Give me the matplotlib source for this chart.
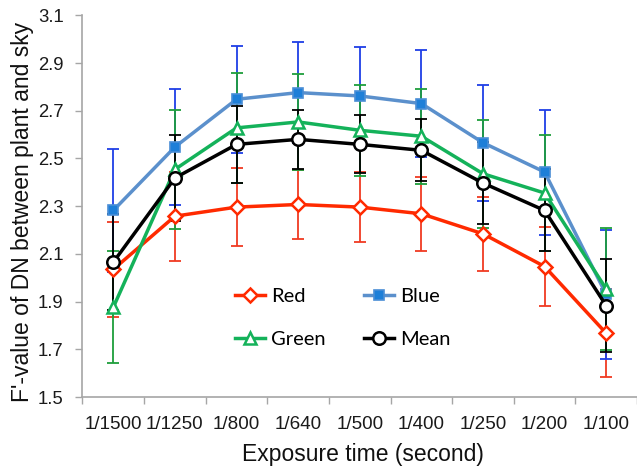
import matplotlib
matplotlib.use("Agg")
import matplotlib.pyplot as plt
import numpy as np

categories = ["1/1500", "1/1250", "1/800", "1/640", "1/500", "1/400", "1/250", "1/200", "1/100"]

red = [2.035, 2.258, 2.296, 2.307, 2.296, 2.268, 2.184, 2.047, 1.767]
red_err = [0.200, 0.186, 0.165, 0.145, 0.147, 0.154, 0.156, 0.167, 0.185]

blue = [2.282, 2.548, 2.748, 2.776, 2.762, 2.730, 2.566, 2.443, 1.930]
blue_err = [0.256, 0.245, 0.225, 0.210, 0.205, 0.224, 0.243, 0.262, 0.272]

green = [1.876, 2.454, 2.628, 2.653, 2.618, 2.593, 2.436, 2.355, 1.953]
green_err = [0.235, 0.250, 0.230, 0.200, 0.190, 0.200, 0.227, 0.242, 0.255]

mean = [2.065, 2.418, 2.559, 2.580, 2.559, 2.534, 2.397, 2.282, 1.883]
mean_err = [0.200, 0.180, 0.160, 0.125, 0.122, 0.130, 0.170, 0.172, 0.195]

yticks = [1.5, 1.7, 1.9, 2.1, 2.3, 2.5, 2.7, 2.9, 3.1]

plt.rcParams['font.family'] = ['Liberation Sans', 'DejaVu Sans']

W, H = 637, 467
fig = plt.figure(figsize=(W / 100, H / 100), dpi=100)
left_px, top_px, bottom_px = 82.5, 15.3, 397.0
ax = fig.add_axes([left_px / W, 1 - bottom_px / H, (W - left_px) / W, (bottom_px - top_px) / H])

x = np.arange(len(categories))

series = [
    ("Red", red, red_err, "#FF2A00", "#F03A22", dict(marker="D", ms=7, mfc="white", mec="#FF2A00", mew=1.8)),
    ("Blue", blue, blue_err, "#5B90CC", "#1F3FE6", dict(marker="s", ms=7, mfc="#1E7FD8", mec="#4A8ED6", mew=1.2)),
    ("Green", green, green_err, "#14B25A", "#1E9E3C", dict(marker="^", ms=9, mfc="white", mec="#14B25A", mew=1.8)),
    ("Mean", mean, mean_err, "#000000", "#000000", dict(marker="o", ms=9, mfc="white", mec="#000000", mew=1.8)),
]

handles = {}
for i, (name, vals, err, lc, ec, mk) in enumerate(series):
    ax.errorbar(x, vals, yerr=err, fmt="none", ecolor=ec, elinewidth=1.3,
                capsize=4, capthick=1.3, zorder=2 + i * 0.1)
for i, (name, vals, err, lc, ec, mk) in enumerate(series):
    (h,) = ax.plot(x, vals, color=lc, lw=2.5, zorder=3 + i, label=name, **mk)
    handles[name] = h

ax.set_xlim(-0.5, -0.5 + (W - left_px) / 62.0)
ax.set_ylim(1.5, 3.1)
ax.set_yticks(yticks)
ax.set_yticklabels([f"{v:.1f}" for v in yticks])

ax.set_xticks(np.arange(len(categories) + 1) - 0.5)
ax.set_xticklabels([])
ax.set_xticks(x, minor=True)
ax.set_xticklabels(categories, minor=True)
ax.tick_params(axis="x", which="major", length=5, width=1, color="#A6A6A6", direction="out")
ax.tick_params(axis="x", which="minor", length=0, pad=14, labelsize=13.6, labelcolor="#1a1a1a")
ax.tick_params(axis="y", length=5, width=1, color="#A6A6A6", direction="out", pad=8.5,
               labelsize=13.3, labelcolor="#1a1a1a")

for s in ["top", "right"]:
    ax.spines[s].set_visible(False)
for s in ["left", "bottom"]:
    ax.spines[s].set_color("#A6A6A6")
    ax.spines[s].set_linewidth(1.2)

ax.set_xlabel("Exposure time (second)", fontsize=16.5, color="#111111")
ax.xaxis.set_label_coords((363 - left_px) / (W - left_px), -(443 - bottom_px) / (bottom_px - top_px))
ax.xaxis.label.set_va("top")
ax.set_ylabel("F'-value of DN between plant and sky", fontsize=16.5, color="#111111")
ax.yaxis.set_label_coords((34 - left_px) / (W - left_px), (bottom_px - 212) / (bottom_px - top_px))

order = ["Red", "Green", "Blue", "Mean"]
leg = ax.legend([handles[n] for n in order], order, ncol=2, frameon=False,
                loc="center", bbox_to_anchor=(343 / W, 1 - 318 / H), bbox_transform=fig.transFigure,
                prop={"family": "Lato", "size": 14.5}, handlelength=1.5, handletextpad=0.3,
                columnspacing=1.9, labelspacing=1.3, borderpad=0)

fig.savefig("out.png", dpi=100)
